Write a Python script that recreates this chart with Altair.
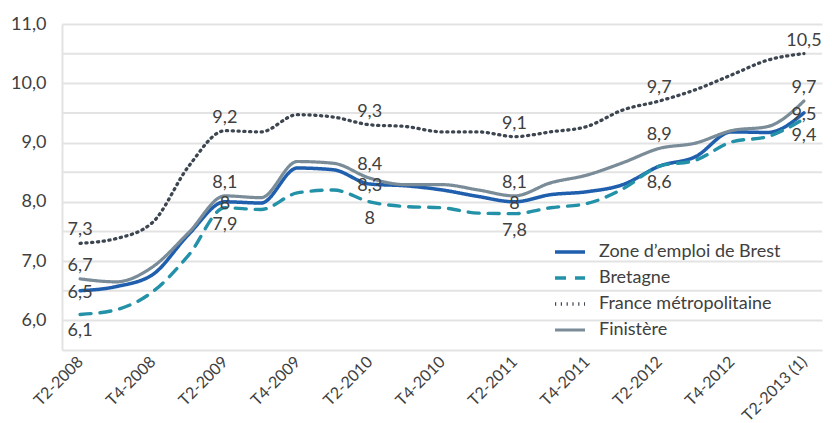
import altair as alt
import pandas as pd

quarters = ["T2-2008", "T3-2008", "T4-2008", "T1-2009", "T2-2009", "T3-2009", "T4-2009",
            "T1-2010", "T2-2010", "T3-2010", "T4-2010", "T1-2011", "T2-2011", "T3-2011",
            "T4-2011", "T1-2012", "T2-2012", "T3-2012", "T4-2012", "T1-2013", "T2-2013 (1)"]
axis_labels = quarters[::2]
y_labels = [6.0, 7.0, 8.0, 9.0, 10.0, 11.0]
y_half_grid = [6.5, 7.5, 8.5, 9.5, 10.5]

series_names = ["Zone d\u2019emploi de Brest", "Bretagne", "France m\u00e9tropolitaine", "Finist\u00e8re"]

brest = [6.5, 6.57, 6.77, 7.45, 8.0, 7.98, 8.57, 8.54, 8.3, 8.27, 8.2, 8.09, 8.0, 8.12,
         8.17, 8.29, 8.6, 8.76, 9.18, 9.17, 9.5]
bretagne = [6.1, 6.18, 6.48, 7.1, 7.9, 7.87, 8.15, 8.2, 8.0, 7.92, 7.9, 7.81, 7.8, 7.9,
            7.97, 8.22, 8.6, 8.7, 9.01, 9.1, 9.4]
france = [7.3, 7.38, 7.65, 8.6, 9.2, 9.18, 9.47, 9.43, 9.3, 9.27, 9.18, 9.18, 9.1, 9.18,
          9.27, 9.55, 9.7, 9.89, 10.14, 10.39, 10.5]
finistere = [6.7, 6.65, 6.9, 7.48, 8.1, 8.07, 8.68, 8.65, 8.4, 8.29, 8.29, 8.2, 8.1, 8.32,
             8.45, 8.66, 8.9, 8.99, 9.2, 9.27, 9.7]

label_quarters = ["T2-2008", "T2-2009", "T2-2010", "T2-2011", "T2-2012", "T2-2013 (1)"]
brest_unlabeled = ["T2-2012"]

colors = ["#1f5fad", "#2391a8", "#3d4650", "#7b8c99"]
dashes = [[1, 0], [11, 9], [1.2, 4.6], [1, 0]]
widths = [3.5, 3.2, 2.8, 4.5]
label_dy = [2, 17, -13, -13]


def fmt(v):
    s = f"{v:.1f}".replace(".", ",")
    return s[:-2] if s.endswith(",0") else s


rows = []
for name, vals in zip(series_names, [brest, bretagne, france, finistere]):
    for q, v in zip(quarters, vals):
        lab = ""
        if q in label_quarters and not (name == series_names[0] and q in brest_unlabeled):
            lab = fmt(v)
        rows.append({"trimestre": q, "serie": name, "taux": v, "label": lab})
df = pd.DataFrame(rows)
grid_df = pd.DataFrame({"taux": y_half_grid})

font = "Lato"
txt_color = "#404040"
grid_color = "#e3e3e3"

x_enc = alt.X("trimestre:O", sort=quarters,
              scale=alt.Scale(domain=quarters, padding=0.5),
              axis=alt.Axis(values=axis_labels, labelAngle=-45, labelAlign="right",
                            labelBaseline="middle", labelFontSize=16, labelColor=txt_color,
                            labelFont=font, ticks=False, domainColor=grid_color,
                            domainWidth=2, labelPadding=9, title=None, grid=False,
                            labelOverlap=False))
y_axis = alt.Axis(values=y_labels,
                  labelExpr="replace(format(datum.value, '.1f'), '.', ',')",
                  labelFontSize=18, labelColor=txt_color, labelFont=font,
                  labelOverlap=False,
                  ticks=False, domainColor=grid_color, domainWidth=2,
                  gridColor=grid_color, gridWidth=2, labelPadding=16, title=None)
y_scale = alt.Scale(domain=[5.5, 11], nice=False, zero=False)

half_grid = alt.Chart(grid_df).mark_rule(color=grid_color, strokeWidth=2).encode(
    y=alt.Y("taux:Q", scale=y_scale, axis=y_axis)
)

lines = alt.Chart(df).mark_line(interpolate="monotone", strokeCap="round").encode(
    x=x_enc,
    y=alt.Y("taux:Q", scale=y_scale, axis=y_axis),
    color=alt.Color("serie:N", sort=series_names,
                    scale=alt.Scale(domain=series_names, range=colors),
                    legend=alt.Legend(title=None, orient="none", legendX=491, legendY=211,
                                      symbolType="stroke", symbolSize=900,
                                      labelFontSize=18, labelFont=font, labelColor=txt_color,
                                      labelOffset=12, rowPadding=-6, labelLimit=400)),
    strokeDash=alt.StrokeDash("serie:N", sort=series_names,
                              scale=alt.Scale(domain=series_names, range=dashes)),
    strokeWidth=alt.StrokeWidth("serie:N", sort=series_names,
                                scale=alt.Scale(domain=series_names, range=widths)),
    order=alt.Order("serie:N"),
)

texts = []
for name, dy in zip(series_names, label_dy):
    texts.append(
        alt.Chart(df).transform_filter(
            (alt.datum.serie == name) & (alt.datum.label != "")
        ).mark_text(dy=dy, fontSize=18, font=font, color=txt_color, baseline="middle").encode(
            x=alt.X("trimestre:O", sort=quarters),
            y=alt.Y("taux:Q", scale=y_scale, axis=y_axis),
            text="label:N")
    )

chart = alt.layer(half_grid, lines, *texts).properties(
    width=760, height=326, padding={"left": 2, "top": 7, "right": 0, "bottom": 0}
).configure_view(stroke=None)

chart.save("out.html", embed_options={"renderer": "svg", "actions": False})
